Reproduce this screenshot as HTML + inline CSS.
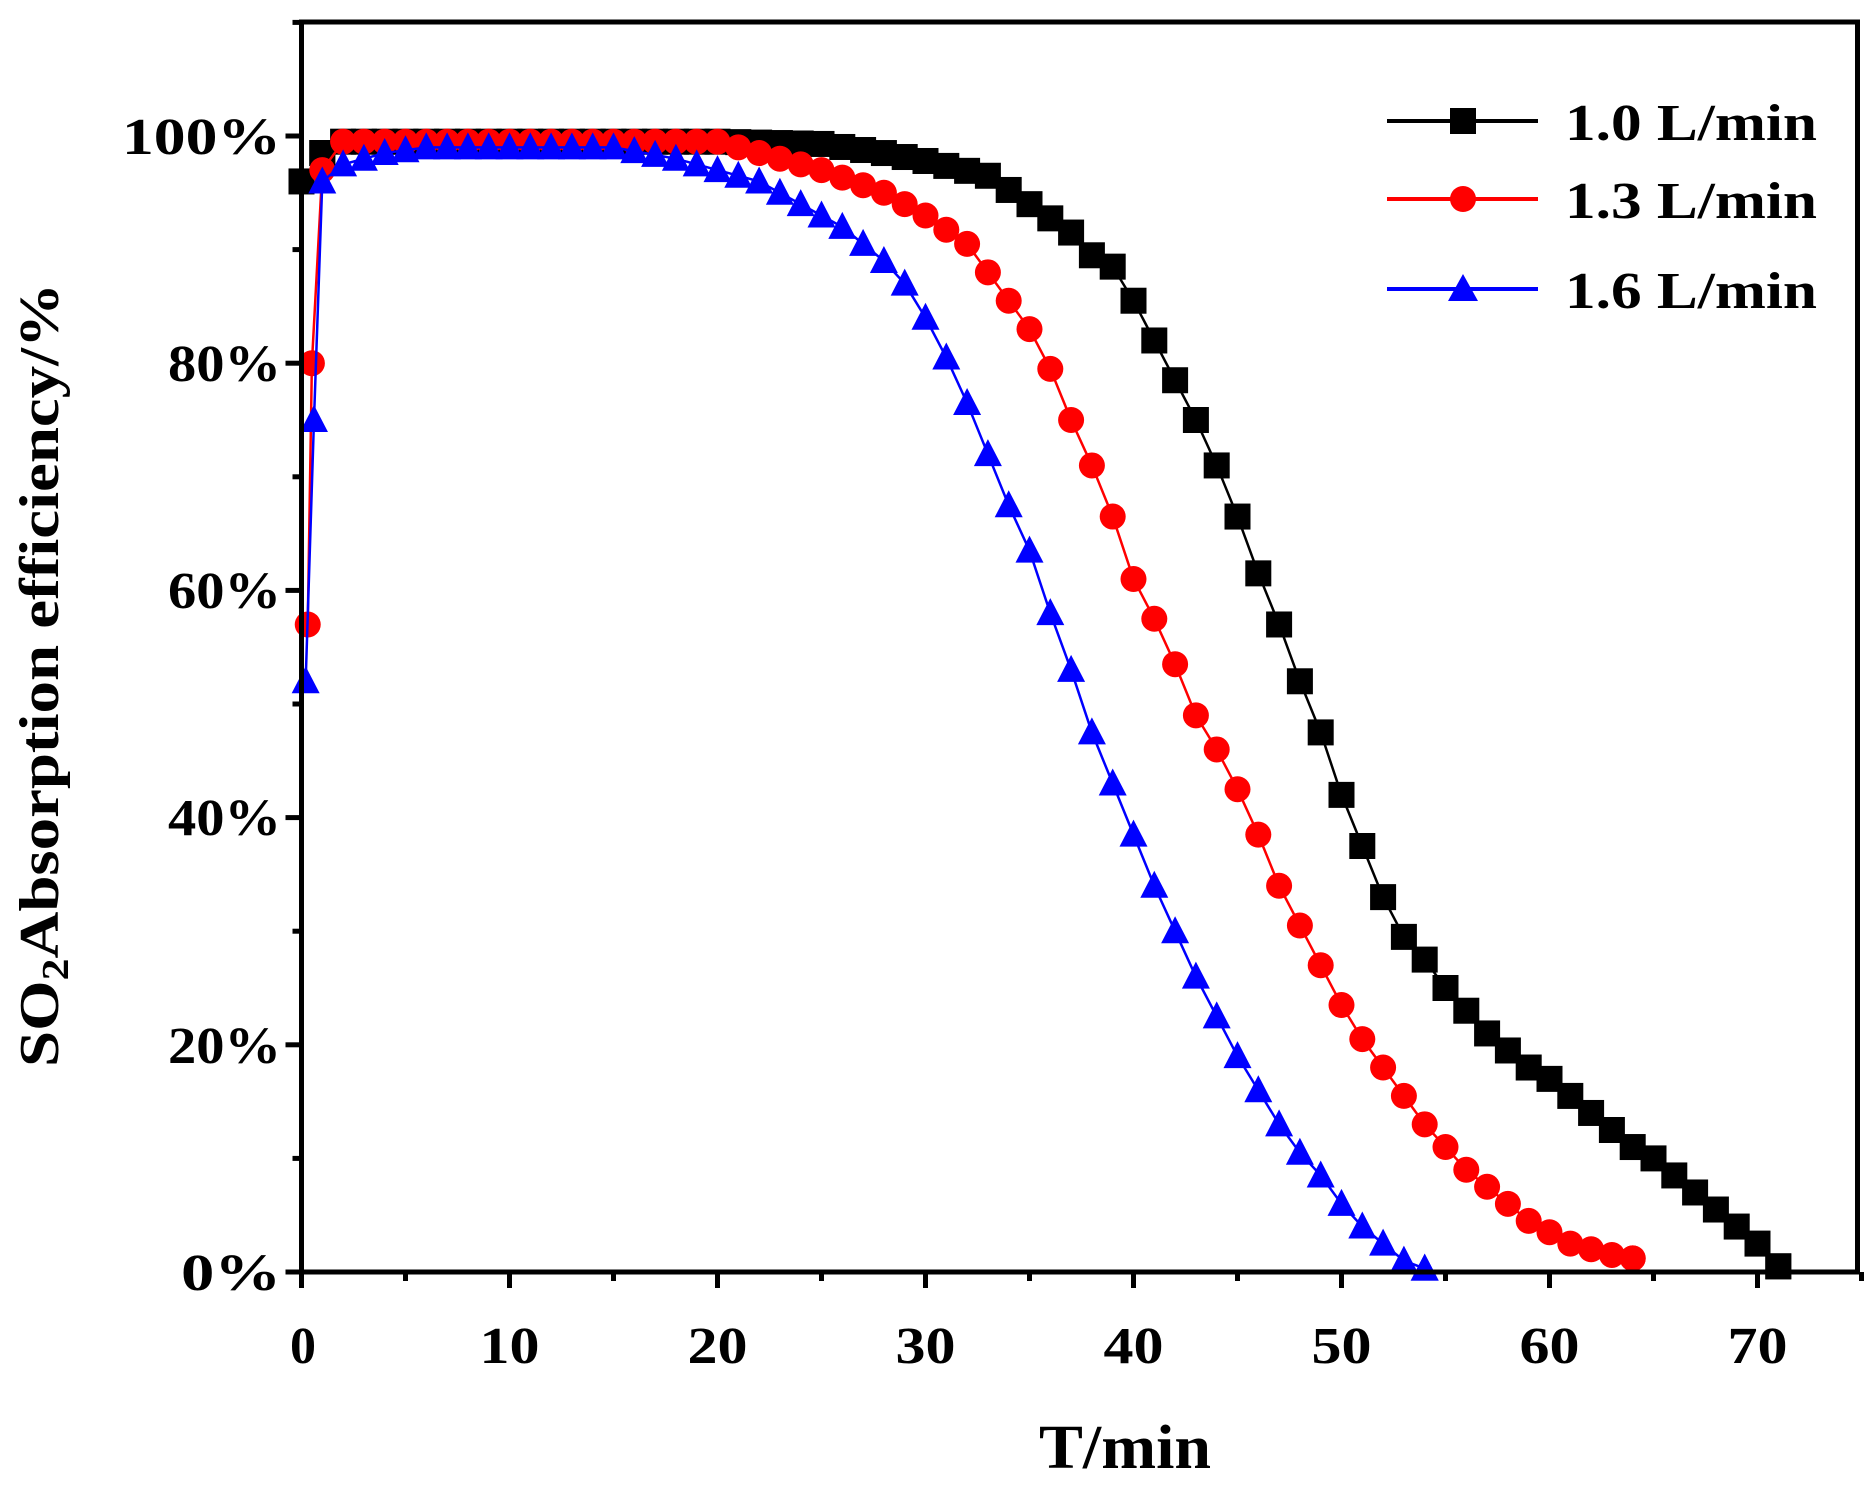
<!DOCTYPE html>
<html><head><meta charset="utf-8"><style>
html,body{margin:0;padding:0;background:#fff;}
svg text{font-family:"Liberation Serif",serif;font-weight:bold;fill:#000;}
</style></head><body>
<svg id="s" width="1874" height="1485" viewBox="0 0 1874 1485" xmlns="http://www.w3.org/2000/svg">
<rect x="0" y="0" width="1874" height="1485" fill="#fff"/>
<g id="plot"></g>
<rect x="301.5" y="22" width="1556" height="1250" fill="none" stroke="#000" stroke-width="5"/>
<g id="ticks" stroke="#000" stroke-width="5"></g>
<g font-size="52" text-anchor="end" lengthAdjust="spacingAndGlyphs">
<text x="281" y="154" textLength="159" lengthAdjust="spacingAndGlyphs">100%</text>
<text x="281" y="381" textLength="113" lengthAdjust="spacingAndGlyphs">80%</text>
<text x="281" y="608" textLength="113" lengthAdjust="spacingAndGlyphs">60%</text>
<text x="281" y="835" textLength="113" lengthAdjust="spacingAndGlyphs">40%</text>
<text x="281" y="1063" textLength="113" lengthAdjust="spacingAndGlyphs">20%</text>
<text x="281" y="1290" textLength="100" lengthAdjust="spacingAndGlyphs">0%</text>
</g>
<g font-size="52" text-anchor="middle">
<text x="303" y="1363">0</text>
<text x="509.5" y="1363" textLength="60" lengthAdjust="spacingAndGlyphs">10</text>
<text x="717.5" y="1363" textLength="60" lengthAdjust="spacingAndGlyphs">20</text>
<text x="925.5" y="1363" textLength="60" lengthAdjust="spacingAndGlyphs">30</text>
<text x="1133.5" y="1363" textLength="60" lengthAdjust="spacingAndGlyphs">40</text>
<text x="1341.5" y="1363" textLength="60" lengthAdjust="spacingAndGlyphs">50</text>
<text x="1549.5" y="1363" textLength="60" lengthAdjust="spacingAndGlyphs">60</text>
<text x="1757.5" y="1363" textLength="60" lengthAdjust="spacingAndGlyphs">70</text>
</g>
<text x="1125" y="1468" font-size="62" text-anchor="middle" textLength="172" lengthAdjust="spacingAndGlyphs">T/min</text>
<text transform="translate(58,675) rotate(-90)" font-size="56" text-anchor="middle" textLength="784" lengthAdjust="spacingAndGlyphs">SO<tspan font-size="38" dy="10">2</tspan><tspan dy="-10">Absorption efficiency/%</tspan></text>
<g font-size="52">
<line x1="1387" y1="121" x2="1538" y2="121" stroke="#000" stroke-width="4"/>
<rect x="1450" y="108" width="26" height="26" fill="#000"/>
<text x="1565" y="140" textLength="252" lengthAdjust="spacingAndGlyphs">1.0 L/min</text>
<line x1="1387" y1="199" x2="1538" y2="199" stroke="#f00" stroke-width="4"/>
<circle cx="1463" cy="199" r="13" fill="#f00"/>
<text x="1565" y="218" textLength="252" lengthAdjust="spacingAndGlyphs">1.3 L/min</text>
<line x1="1387" y1="289" x2="1538" y2="289" stroke="#00f" stroke-width="4"/>
<polygon points="1463,274 1478,301 1448,301" fill="#00f"/>
<text x="1565" y="308" textLength="252" lengthAdjust="spacingAndGlyphs">1.6 L/min</text>
</g>
</svg>
<script>
var X=function(t){return 301.5+t*20.8;},Y=function(v){return 1272-v*11.36;};
var tk=document.getElementById('ticks'),h='';
for(var t=0;t<=75;t+=5){var L=t%10==0?16:9;h+='<line x1="'+X(t)+'" y1="1272" x2="'+X(t)+'" y2="'+(1272+L)+'"/>';}
for(var v=0;v<=110;v+=10){var L=v%20==0?16:9;h+='<line x1="301.5" y1="'+Y(v)+'" x2="'+(301.5-L)+'" y2="'+Y(v)+'"/>';}
tk.innerHTML=h;
var B=[[0,96],[1,98.5],[2,99.5],[20,99.5],[25,99.3],[28,98.5],[30,97.8],[33,96.5],[35,94],[37,91.5],[38,89.5],[39,88.5],[40,85.5],[41,82],[42,78.5],[43,75],[44,71],[45,66.5],[46,61.5],[47,57],[48,52],[49,47.5],[50,42],[51,37.5],[52,33],[53,29.5],[54,27.5],[55,25],[56,23],[57,21],[58,19.5],[59,18],[60,17],[61,15.5],[62,14],[63,12.5],[64,11],[65,10],[66,8.5],[67,7],[68,5.5],[69,4],[70,2.5],[71,0.5]];
var R=[[0.3,57],[0.5,80],[1,97],[2,99.5],[20,99.5],[22,98.5],[25,97],[28,95],[30,93],[32,90.5],[33,88],[34,85.5],[35,83],[36,79.5],[37,75],[38,71],[39,66.5],[40,61],[41,57.5],[42,53.5],[43,49],[44,46],[45,42.5],[46,38.5],[47,34],[48,30.5],[49,27],[50,23.5],[51,20.5],[52,18],[53,15.5],[54,13],[55,11],[56,9],[57,7.5],[58,6],[59,4.5],[60,3.5],[61,2.5],[62,2],[63,1.5],[64,1.2]];
var U=[[0.2,52],[0.6,75],[1,96],[2,97.5],[4,98.5],[6,99],[15,99],[18,98],[20,97],[22,96],[24,94],[26,92],[28,89],[29,87],[30,84],[31,80.5],[32,76.5],[33,72],[34,67.5],[35,63.5],[36,58],[37,53],[38,47.5],[39,43],[40,38.5],[41,34],[42,30],[43,26],[44,22.5],[45,19],[46,16],[47,13],[48,10.5],[49,8.5],[50,6],[51,4],[52,2.5],[53,1],[54,0.3]];
function interp(d,t){for(var i=0;i<d.length-1;i++){if(t>=d[i][0]&&t<=d[i+1][0]){var f=(t-d[i][0])/(d[i+1][0]-d[i][0]);return d[i][1]+f*(d[i+1][1]-d[i][1]);}}return null;}
function series(d,col,m){var s='',p=d.map(function(q){return X(q[0])+','+Y(q[1]);}).join(' ');
s+='<polyline points="'+p+'" fill="none" stroke="'+col+'" stroke-width="2.5"/>';
var pts=d.slice(0,2).map(function(q){return q;});
for(var t=1;t<=d[d.length-1][0]+0.01;t+=1){pts.push([t,interp(d,Math.min(t,d[d.length-1][0]))]);}
pts.push(d[d.length-1]);
pts.forEach(function(q){if(q[1]==null)return;var x=X(q[0]),y=Y(q[1]);
if(m=='s')s+='<rect x="'+(x-13)+'" y="'+(y-13)+'" width="26" height="26" fill="'+col+'"/>';
else if(m=='c')s+='<circle cx="'+x+'" cy="'+y+'" r="13" fill="'+col+'"/>';
else s+='<polygon points="'+x+','+(y-15)+' '+(x+14)+','+(y+12)+' '+(x-14)+','+(y+12)+'" fill="'+col+'"/>';});
return s;}
document.getElementById('plot').innerHTML=series(B,'#000','s')+series(R,'#f00','c')+series(U,'#00f','t');
</script>
</body></html>
